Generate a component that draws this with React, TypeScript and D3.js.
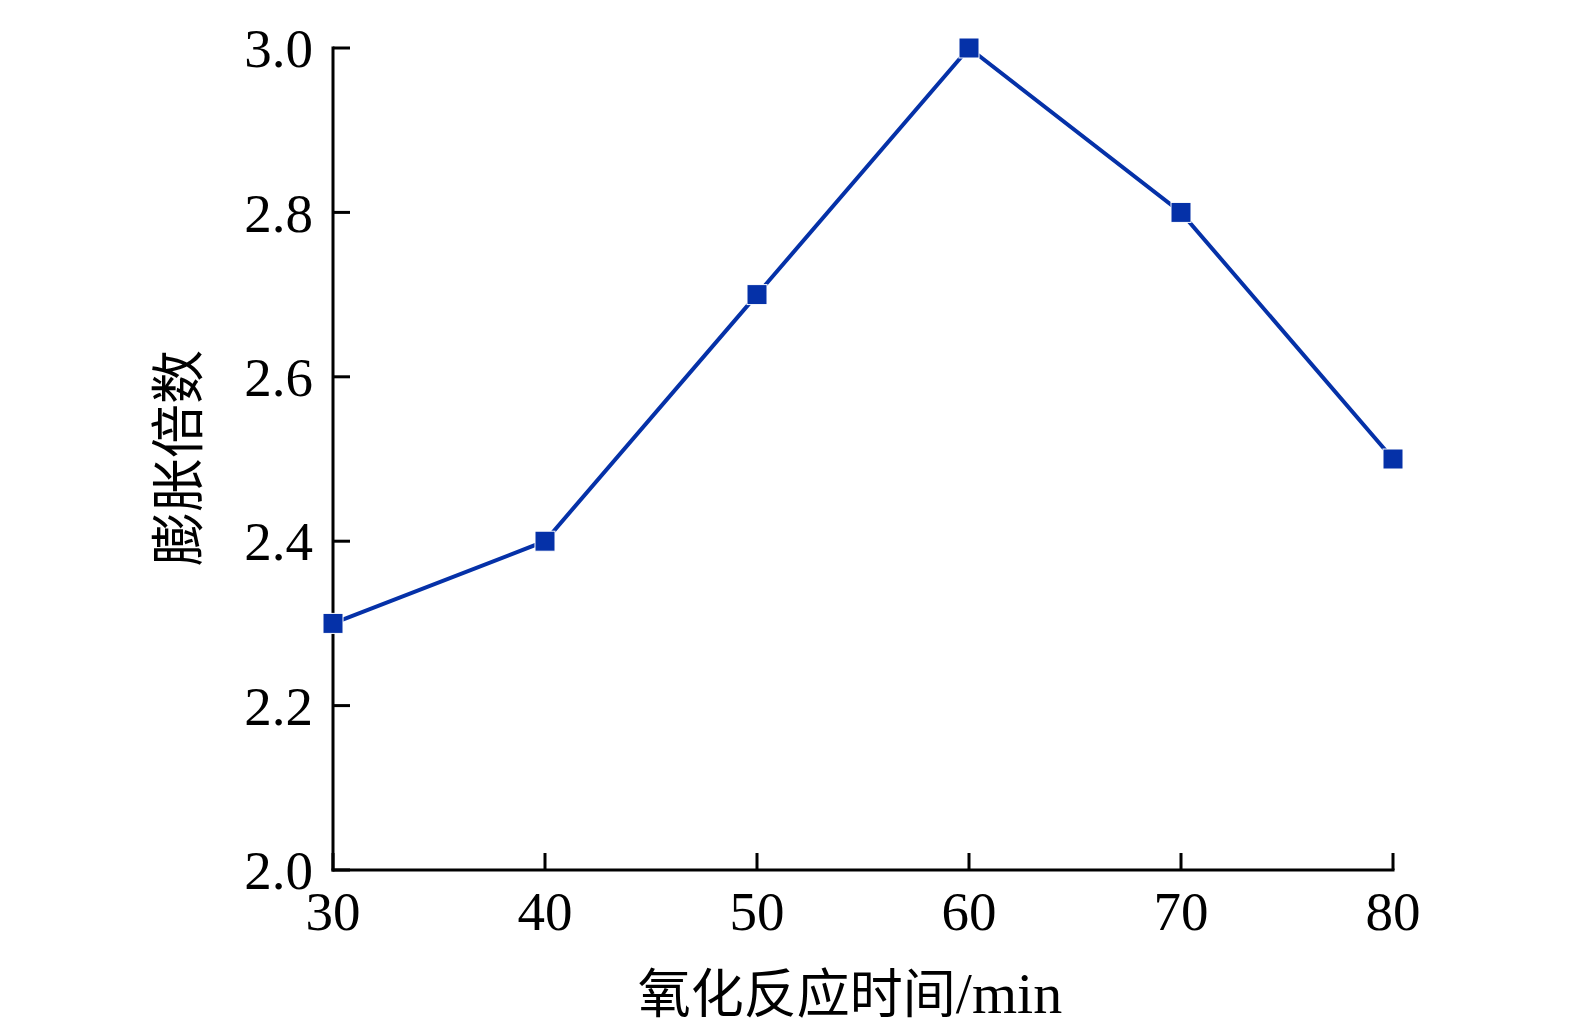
import React from "react";
import * as d3 from "d3";

const times = [30, 40, 50, 60, 70, 80];
const expansion = [2.3, 2.4, 2.7, 3.0, 2.8, 2.5];
const xTicks = [30, 40, 50, 60, 70, 80];
const yTicks = [2.0, 2.2, 2.4, 2.6, 2.8, 3.0];
const xTitleCjk = "氧化反应时间";
const xTitleUnit = "/min";
const yTitle = "膨胀倍数";

const W = 1575;
const H = 1033;
const left = 333;
const right = 1393;
const top = 48;
const bottom = 870;
const color = "#0531a8";
const serif = "'Liberation Serif', 'Times New Roman', serif";
const cjk = "'Noto Sans CJK SC', sans-serif";

export default function App() {
  const x = d3.scaleLinear().domain([30, 80]).range([left, right]);
  const y = d3.scaleLinear().domain([2.0, 3.0]).range([bottom, top]);
  const pts = times.map((t, i) => [x(t), y(expansion[i])] as [number, number]);
  const line = d3.line()(pts) || "";
  const tickLen = 17;
  const ms = 20;
  return (
    <svg width={W} height={H} style={{ position: "absolute", left: 0, top: 0, background: "#fff" }}>
      <rect width={W} height={H} fill="#fff" />
      <line x1={left} x2={left} y1={top - 1.5} y2={bottom + 1.5} stroke="#000" strokeWidth={3} />
      <line x1={left - 1.5} x2={right + 1.5} y1={bottom} y2={bottom} stroke="#000" strokeWidth={3} />
      {yTicks.map((v) => (
        <g key={"y" + v}>
          <line x1={left} x2={left + tickLen} y1={y(v)} y2={y(v)} stroke="#000" strokeWidth={3} />
          <text x={left - 20} y={y(v)} dy="0.35em" textAnchor="end" fontFamily={serif} fontSize={55} fill="#000">
            {v.toFixed(1)}
          </text>
        </g>
      ))}
      {xTicks.map((v) => (
        <g key={"x" + v}>
          <line x1={x(v)} x2={x(v)} y1={bottom} y2={bottom - tickLen} stroke="#000" strokeWidth={3} />
          <text x={x(v)} y={930} textAnchor="middle" fontFamily={serif} fontSize={55} fill="#000">
            {v}
          </text>
        </g>
      ))}
      <path d={line} fill="none" stroke={color} strokeWidth={4} />
      {pts.map(([px, py], i) => (
        <rect key={i} x={px - ms / 2} y={py - ms / 2} width={ms} height={ms} fill={color} stroke="#fff" strokeWidth={1} />
      ))}
      <text x={850} y={1013} textAnchor="middle" fill="#000">
        <tspan fontFamily={cjk} fontSize={53}>{xTitleCjk}</tspan>
        <tspan fontFamily={serif} fontSize={58}>{xTitleUnit}</tspan>
      </text>
      <text
        transform={`translate(198, 458) rotate(-90)`}
        textAnchor="middle"
        fontFamily={cjk}
        fontSize={54}
        fill="#000"
      >
        {yTitle}
      </text>
    </svg>
  );
}
